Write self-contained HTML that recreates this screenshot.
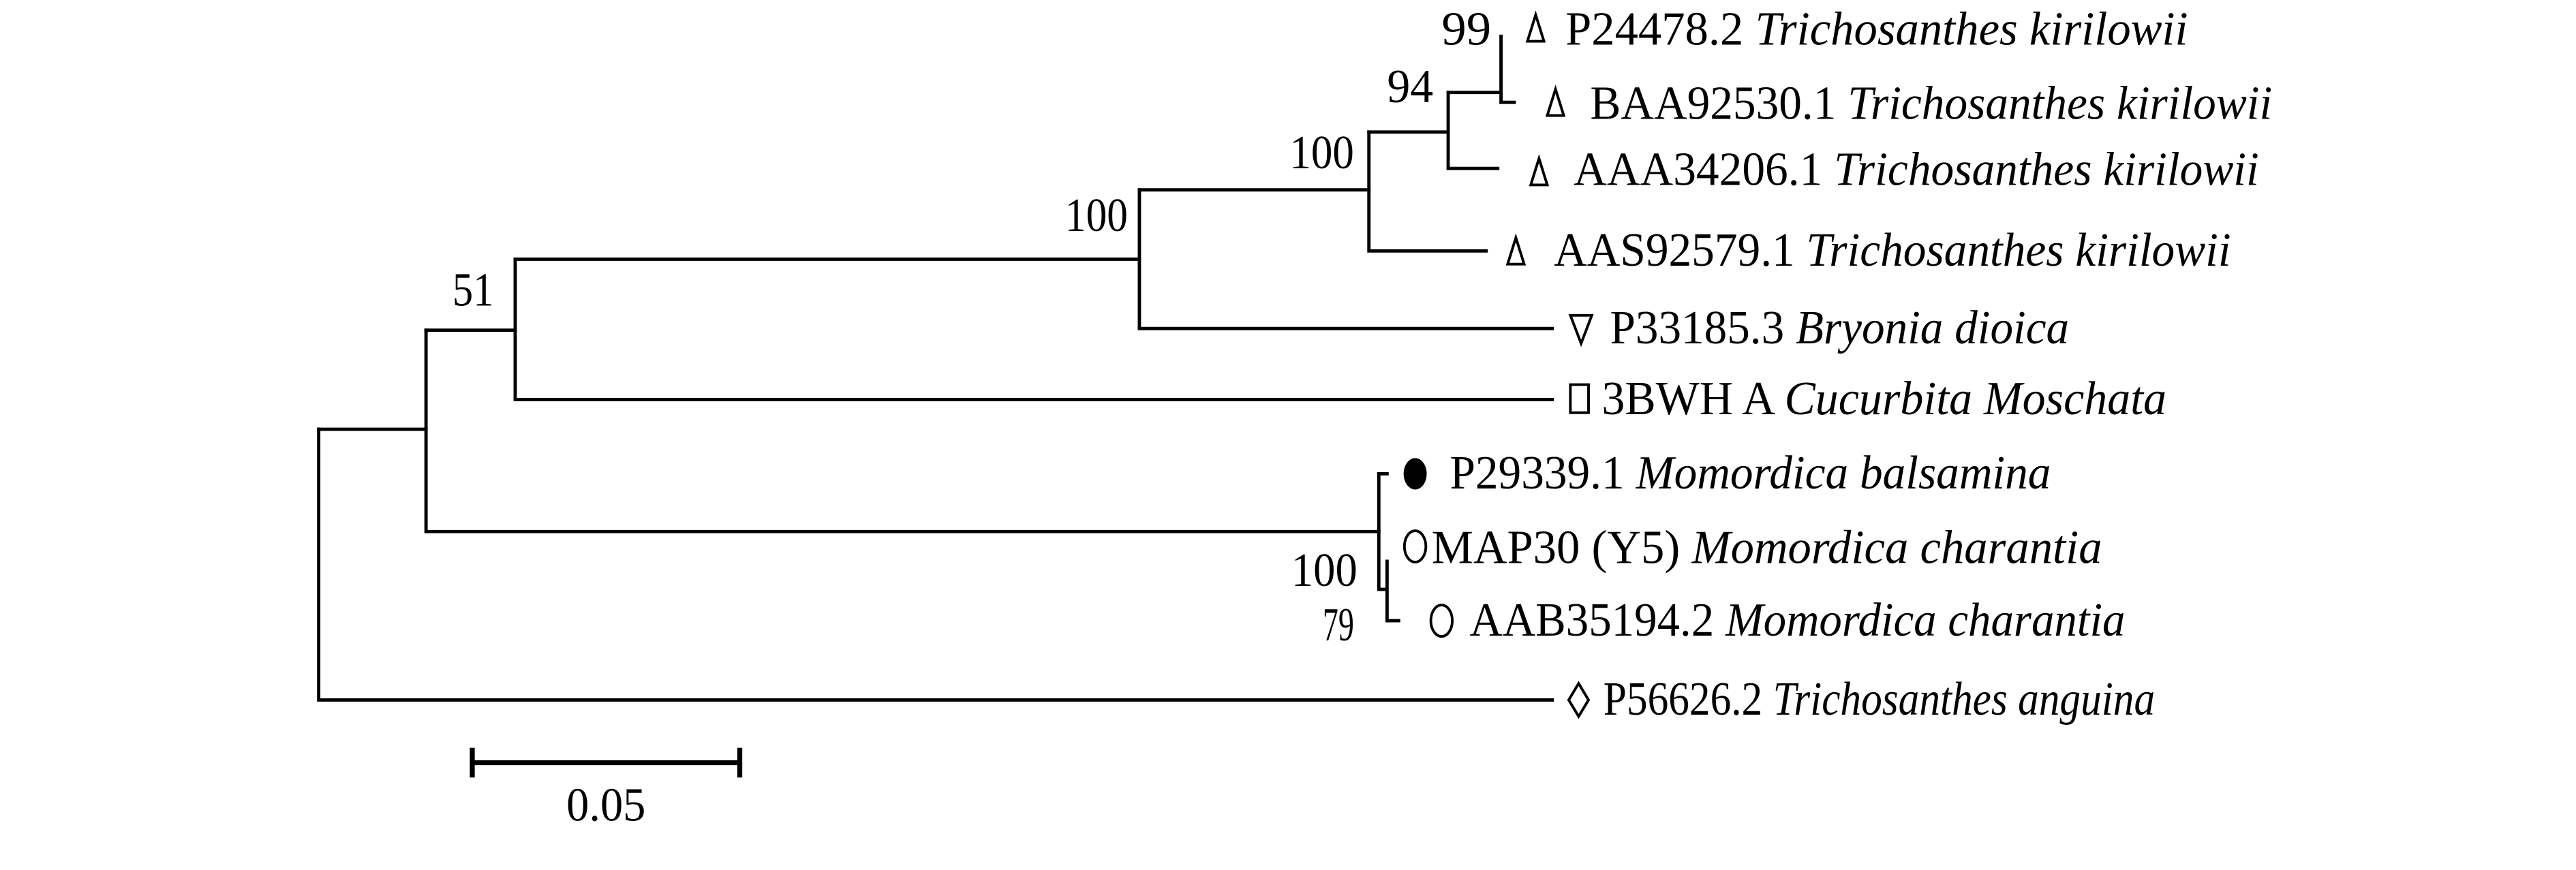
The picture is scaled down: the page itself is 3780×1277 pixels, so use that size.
<!DOCTYPE html>
<html><head><meta charset="utf-8"><style>html,body{margin:0;padding:0;background:#fff}svg{display:block}
text{font-family:"Liberation Serif","DejaVu Serif",serif;font-size:29px}</style></head>
<body>
<svg width="3780" height="1277" viewBox="0 0 1560 527" preserveAspectRatio="none" xmlns="http://www.w3.org/2000/svg">
<g fill="none" stroke="#000" stroke-width="2" stroke-linecap="square">
<path d="M193 260V424H940"/>
<path d="M193 260H258"/>
<path d="M258 200V322H835"/>
<path d="M258 200H312"/>
<path d="M312 157V242H940"/>
<path d="M312 157H690"/>
<path d="M690 115V199H940"/>
<path d="M690 115H829"/>
<path d="M829 80V152H900"/>
<path d="M829 80H877"/>
<path d="M877 56V102H907"/>
<path d="M877 56H909"/>
<path d="M909 22V62H917"/>
<path d="M835 287V357H838"/>
<path d="M835 287H840"/>
<path d="M840 340V376H847"/>
</g>
<g fill="none" stroke="#000" stroke-width="1.6">
<path d="M930 9L935 25H925Z"/>
<path d="M942 54L947 70H937Z"/>
<path d="M932 96L937 112H927Z"/>
<path d="M918 144L923 160H913Z"/>
<path d="M951 191H964L957.5 208Z"/>
<rect x="951" y="233" width="11" height="17"/>
<ellipse cx="857" cy="331" rx="6.5" ry="9.5"/>
<ellipse cx="873" cy="376" rx="6.5" ry="9.5"/>
<path d="M956 414L962 424L956 434L950 424Z"/>
</g>
<ellipse cx="857" cy="287" rx="7" ry="9.5" fill="#000"/>
<g stroke="#000" stroke-width="3" fill="none">
<path d="M286 462H448M286 453V471M448 453V471"/>
</g>
<g fill="#000">
<text x="948" y="27" textLength="377" lengthAdjust="spacingAndGlyphs">P24478.2 <tspan font-style="italic">Trichosanthes kirilowii</tspan></text>
<text x="963" y="72" textLength="413" lengthAdjust="spacingAndGlyphs">BAA92530.1 <tspan font-style="italic">Trichosanthes kirilowii</tspan></text>
<text x="953" y="112" textLength="415" lengthAdjust="spacingAndGlyphs">AAA34206.1 <tspan font-style="italic">Trichosanthes kirilowii</tspan></text>
<text x="941" y="161" textLength="410" lengthAdjust="spacingAndGlyphs">AAS92579.1 <tspan font-style="italic">Trichosanthes kirilowii</tspan></text>
<text x="975" y="208" textLength="278" lengthAdjust="spacingAndGlyphs">P33185.3 <tspan font-style="italic">Bryonia dioica</tspan></text>
<text x="970" y="251" textLength="342" lengthAdjust="spacingAndGlyphs">3BWH A <tspan font-style="italic">Cucurbita Moschata</tspan></text>
<text x="878" y="296" textLength="364" lengthAdjust="spacingAndGlyphs">P29339.1 <tspan font-style="italic">Momordica balsamina</tspan></text>
<text x="867" y="341" textLength="406" lengthAdjust="spacingAndGlyphs">MAP30 (Y5) <tspan font-style="italic">Momordica charantia</tspan></text>
<text x="890" y="385" textLength="397" lengthAdjust="spacingAndGlyphs">AAB35194.2 <tspan font-style="italic">Momordica charantia</tspan></text>
<text x="971" y="433" textLength="334" lengthAdjust="spacingAndGlyphs">P56626.2 <tspan font-style="italic">Trichosanthes anguina</tspan></text>
<text x="873" y="27" textLength="30" lengthAdjust="spacingAndGlyphs">99</text>
<text x="840" y="62" textLength="28" lengthAdjust="spacingAndGlyphs">94</text>
<text x="781" y="102" textLength="39" lengthAdjust="spacingAndGlyphs">100</text>
<text x="645" y="140" textLength="38" lengthAdjust="spacingAndGlyphs">100</text>
<text x="274" y="185" textLength="25" lengthAdjust="spacingAndGlyphs">51</text>
<text x="782" y="355" textLength="40" lengthAdjust="spacingAndGlyphs">100</text>
<text x="801" y="388" textLength="19" lengthAdjust="spacingAndGlyphs">79</text>
<text x="343" y="497" textLength="48" lengthAdjust="spacingAndGlyphs">0.05</text>
</g>
</svg>
</body></html>
